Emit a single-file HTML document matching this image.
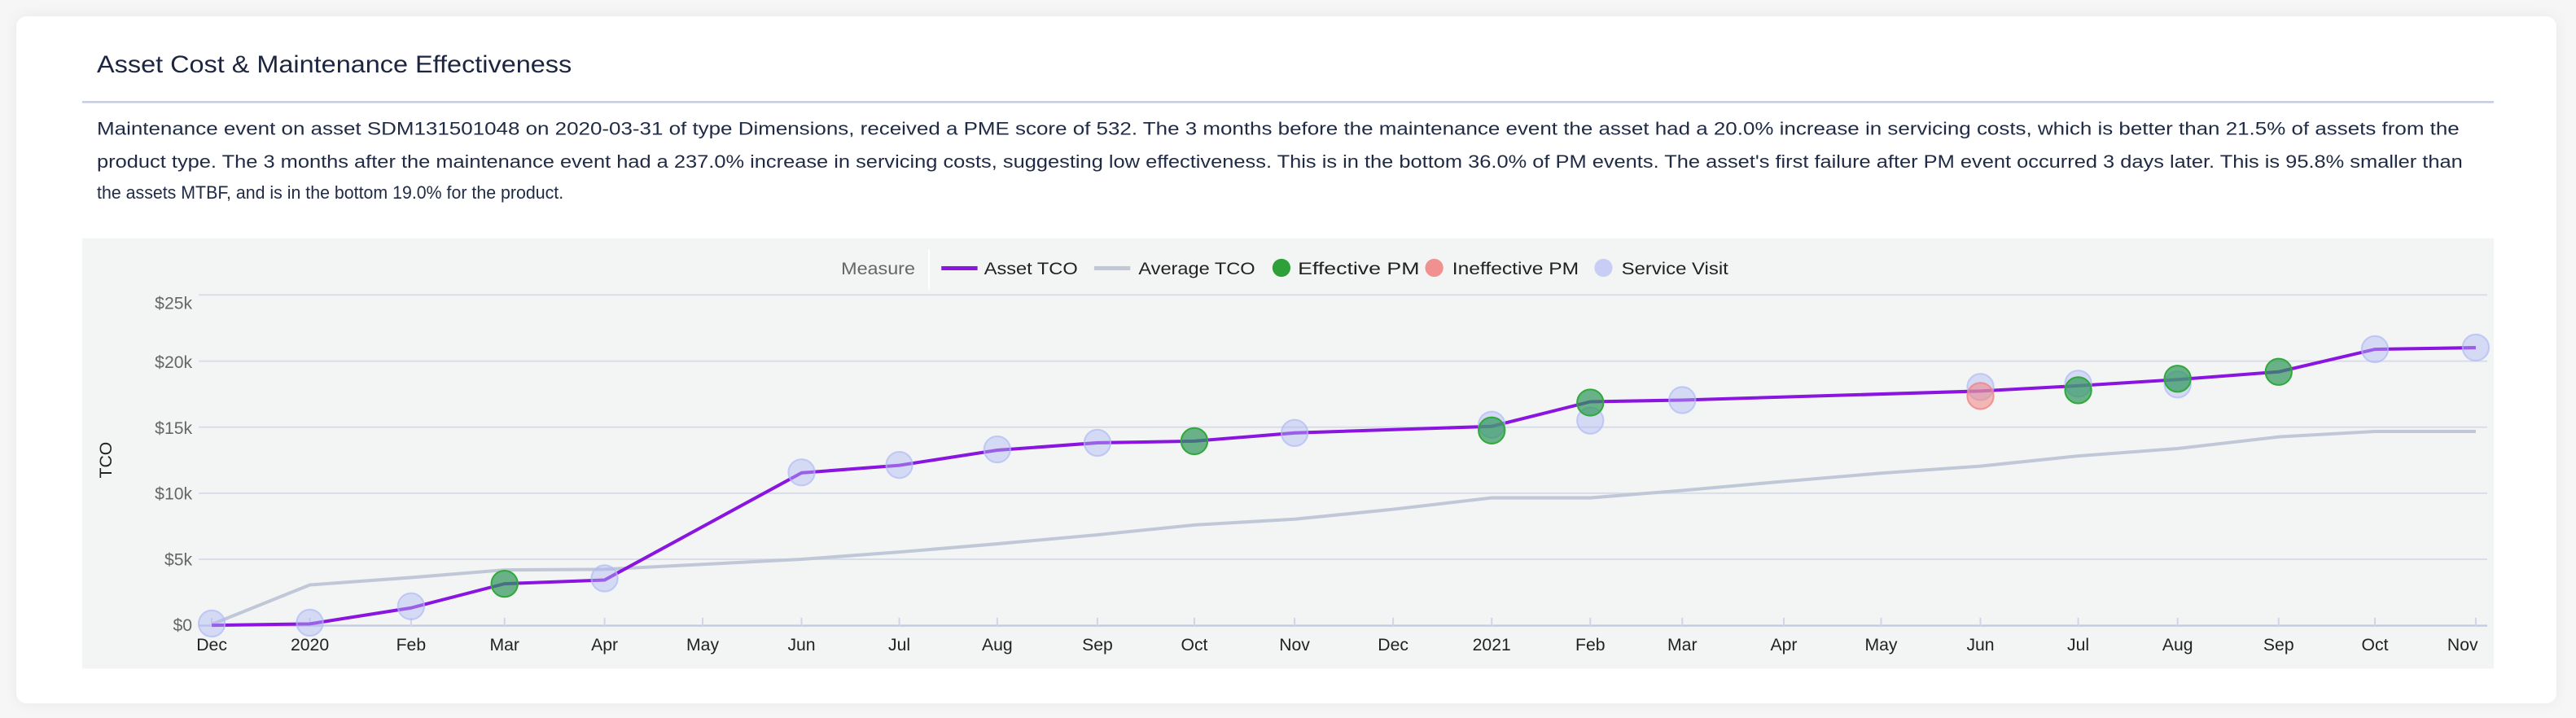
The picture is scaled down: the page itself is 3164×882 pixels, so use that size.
<!DOCTYPE html>
<html><head><meta charset="utf-8"><style>
html,body{margin:0;padding:0;background:#f6f6f7;}
svg{display:block;}
text{font-family:"Liberation Sans",sans-serif;}
</style></head><body>
<svg width="3164" height="882" viewBox="0 0 1568 437" preserveAspectRatio="none" xmlns="http://www.w3.org/2000/svg">
<defs><filter id="sh" x="-5%" y="-10%" width="110%" height="120%"><feDropShadow dx="0" dy="0" stdDeviation="4" flood-color="#000" flood-opacity="0.06"/></filter></defs>
<rect x="0" y="0" width="1568" height="437" fill="#f6f6f7"/>
<rect x="10" y="10" width="1546" height="418" rx="6" fill="#fff" filter="url(#sh)"/>
<text x="59" y="44" font-size="14.5" fill="#1c2540" textLength="289" lengthAdjust="spacingAndGlyphs">Asset Cost &amp; Maintenance Effectiveness</text>
<rect x="50" y="61.5" width="1468" height="1.2" fill="#c4cbe0"/>
<g font-size="11" fill="#1f2a44">
<text x="59" y="82" textLength="1438" lengthAdjust="spacingAndGlyphs">Maintenance event on asset SDM131501048 on 2020-03-31 of type Dimensions, received a PME score of 532. The 3 months before the maintenance event the asset had a 20.0% increase in servicing costs, which is better than 21.5% of assets from the</text>
<text x="59" y="102" textLength="1440" lengthAdjust="spacingAndGlyphs">product type. The 3 months after the maintenance event had a 237.0% increase in servicing costs, suggesting low effectiveness. This is in the bottom 36.0% of PM events. The asset's first failure after PM event occurred 3 days later. This is 95.8% smaller than</text>
<text x="59" y="121" textLength="284" lengthAdjust="spacingAndGlyphs">the assets MTBF, and is in the bottom 19.0% for the product.</text>
</g>
<rect x="50" y="145" width="1468" height="262" fill="#f3f5f4"/>
<g font-size="10.5">
<text x="512" y="167" fill="#666" textLength="45" lengthAdjust="spacingAndGlyphs">Measure</text>
<rect x="565" y="152" width="1" height="24" fill="#fff"/>
<rect x="573" y="162" width="22" height="2.5" fill="#8a14e0"/>
<text x="599" y="167" fill="#222" textLength="57" lengthAdjust="spacingAndGlyphs">Asset TCO</text>
<rect x="666" y="162" width="22" height="2.5" fill="#c0c8d8"/>
<text x="693" y="167" fill="#222" textLength="71" lengthAdjust="spacingAndGlyphs">Average TCO</text>
<circle cx="780" cy="163" r="5.5" fill="#2ea03a"/>
<text x="790" y="167" fill="#222" textLength="74" lengthAdjust="spacingAndGlyphs">Effective PM</text>
<circle cx="873" cy="163" r="5.5" fill="#f09090"/>
<text x="884" y="167" fill="#222" textLength="77" lengthAdjust="spacingAndGlyphs">Ineffective PM</text>
<circle cx="976" cy="163" r="5.5" fill="#c8cdf5"/>
<text x="987" y="167" fill="#222" textLength="65" lengthAdjust="spacingAndGlyphs">Service Visit</text>
</g>
<g stroke="#d8dde8" stroke-width="1">
<line x1="121" x2="1514" y1="179.5" y2="179.5"/>
<line x1="121" x2="1514" y1="219.8" y2="219.8"/>
<line x1="121" x2="1514" y1="260" y2="260"/>
<line x1="121" x2="1514" y1="300.2" y2="300.2"/>
<line x1="121" x2="1514" y1="340.4" y2="340.4"/>
</g>
<line x1="121" x2="1514" y1="380.8" y2="380.8" stroke="#c4cbe0" stroke-width="1.2"/>
<g font-size="10.5" fill="#666" text-anchor="end">
<text x="117" y="188">$25k</text>
<text x="117" y="224">$20k</text>
<text x="117" y="264">$15k</text>
<text x="117" y="304">$10k</text>
<text x="117" y="344">$5k</text>
<text x="117" y="384">$0</text>
</g>
<text transform="translate(68,280) rotate(-90)" font-size="10.5" fill="#222" text-anchor="middle">TCO</text>
<g stroke="#d0d6e4" stroke-width="1">
<path d="M128.9 376v5M188.6 376v5M250.2 376v5M307.1 376v5M368 376v5M427.7 376v5M487.9 376v5M547.4 376v5M607 376v5M668 376v5M727 376v5M788 376v5M848 376v5M908 376v5M968 376v5M1024 376v5M1085.8 376v5M1145 376v5M1205.5 376v5M1265 376v5M1325.5 376v5M1387 376v5M1445.6 376v5M1507 376v5"/>
</g>
<g font-size="10.5" fill="#222" text-anchor="middle">
<text x="128.9" y="396">Dec</text><text x="188.6" y="396">2020</text><text x="250.2" y="396">Feb</text><text x="307.1" y="396">Mar</text><text x="368" y="396">Apr</text><text x="427.7" y="396">May</text><text x="487.9" y="396">Jun</text><text x="547.4" y="396">Jul</text><text x="607" y="396">Aug</text><text x="668" y="396">Sep</text><text x="727" y="396">Oct</text><text x="788" y="396">Nov</text><text x="848" y="396">Dec</text><text x="908" y="396">2021</text><text x="968" y="396">Feb</text><text x="1024" y="396">Mar</text><text x="1085.8" y="396">Apr</text><text x="1145" y="396">May</text><text x="1205.5" y="396">Jun</text><text x="1265" y="396">Jul</text><text x="1325.5" y="396">Aug</text><text x="1387" y="396">Sep</text><text x="1445.6" y="396">Oct</text><text x="1499" y="396">Nov</text>
</g>
<polyline fill="none" stroke="#c0c8d8" stroke-width="2" points="128.9,380 188.6,356 250.2,351.5 307.1,346.9 368,346.5 487.9,340.4 547.4,336 607,331 668,325.5 727,319.5 788,316 848,310 908,303 968,303 1024,298.5 1085.8,293 1145,288 1205.5,283.7 1265,277.5 1325.5,273 1387,265.9 1445.6,262.6 1507,262.6"/>
<polyline fill="none" stroke="#8a14e0" stroke-width="2" points="128.9,380.6 188.6,379.7 250.2,370 307.1,355.3 368,353 487.9,287.8 547.4,283.2 607,274 668,269.5 727,268.5 788,263.5 908,259.5 968,244.5 1024,243.5 1205.5,238 1265,234.8 1325.5,231 1387,226.3 1445.6,212.6 1507,211.6"/>
<g fill="rgba(175,185,245,0.45)" stroke="rgba(175,185,245,0.7)" stroke-width="1">
<circle cx="128.9" cy="379.5" r="8"/><circle cx="188.6" cy="379" r="8"/><circle cx="250.2" cy="369" r="8"/><circle cx="368" cy="352" r="8"/><circle cx="487.9" cy="287.5" r="8"/><circle cx="547.4" cy="283" r="8"/><circle cx="607" cy="273.5" r="8"/><circle cx="668" cy="269.5" r="8"/><circle cx="788" cy="263.5" r="8"/><circle cx="908" cy="258.5" r="8"/><circle cx="968" cy="256" r="8"/><circle cx="1024" cy="243.5" r="8"/><circle cx="1205.5" cy="235.5" r="8"/><circle cx="1265" cy="233.5" r="8"/><circle cx="1325.5" cy="234" r="8"/><circle cx="1445.6" cy="212.5" r="8"/><circle cx="1507" cy="211.5" r="8"/>
</g>
<circle cx="1205.5" cy="241" r="8" fill="rgba(240,130,130,0.55)" stroke="rgba(240,130,130,0.8)" stroke-width="1"/>
<g fill="rgba(46,150,90,0.7)" stroke="#30a83a" stroke-width="1">
<circle cx="307.1" cy="355.3" r="8"/><circle cx="727" cy="268.5" r="8"/><circle cx="908" cy="262" r="8"/><circle cx="968" cy="245" r="8"/><circle cx="1265" cy="237.5" r="8"/><circle cx="1325.5" cy="230.5" r="8"/><circle cx="1387" cy="226.3" r="8"/>
</g>
</svg>
</body></html>
